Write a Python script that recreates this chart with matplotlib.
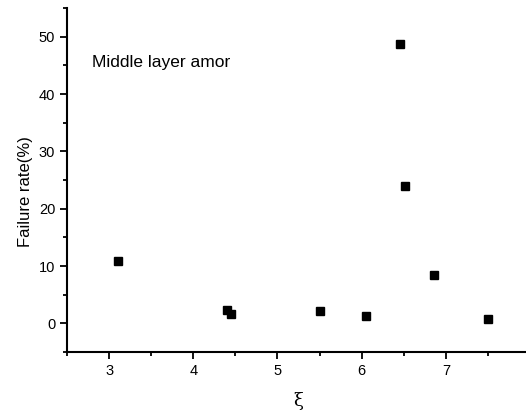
import matplotlib
matplotlib.use("Agg")
import matplotlib.pyplot as plt
from matplotlib.ticker import MultipleLocator

# data
xi = [3.10, 4.40, 4.45, 5.50, 6.05, 6.45, 6.51, 6.86, 7.50]
failure = [10.9, 2.3, 1.7, 2.2, 1.2, 48.8, 23.9, 8.5, 0.8]

plt.rcParams['font.family'] = ['Liberation Sans', 'DejaVu Sans']

fig = plt.figure(figsize=(5.26, 4.12), dpi=100)
ax = fig.add_axes([67 / 526, (412 - 352) / 412, (530 - 67) / 526, (352 - 8) / 412])

ax.plot(xi, failure, 's', color='black', markersize=6, linestyle='none')

ax.set_xlim(2.5, 8.0)
ax.set_ylim(-5, 55)
ax.xaxis.set_major_locator(MultipleLocator(1))
ax.xaxis.set_minor_locator(MultipleLocator(0.5))
ax.yaxis.set_major_locator(MultipleLocator(10))
ax.yaxis.set_minor_locator(MultipleLocator(5))
ax.set_yticks([0, 10, 20, 30, 40, 50])

for side in ['top', 'right']:
    ax.spines[side].set_visible(False)
for side in ['left', 'bottom']:
    ax.spines[side].set_linewidth(1.5)

ax.tick_params(which='major', direction='out', length=5, width=1.3, labelsize=10.5)
ax.tick_params(which='minor', direction='out', length=3, width=1.3)

ax.text(2.8, 45.5, "Middle layer amor", fontsize=12.5, va='center', ha='left')
ax.set_ylabel("Failure rate(%)", fontsize=12)
ax.yaxis.set_label_coords(-0.074, 0.465)
ax.set_xlabel("ξ", fontsize=13, labelpad=10, family=['DejaVu Serif'])

fig.savefig("out.png", dpi=100)
